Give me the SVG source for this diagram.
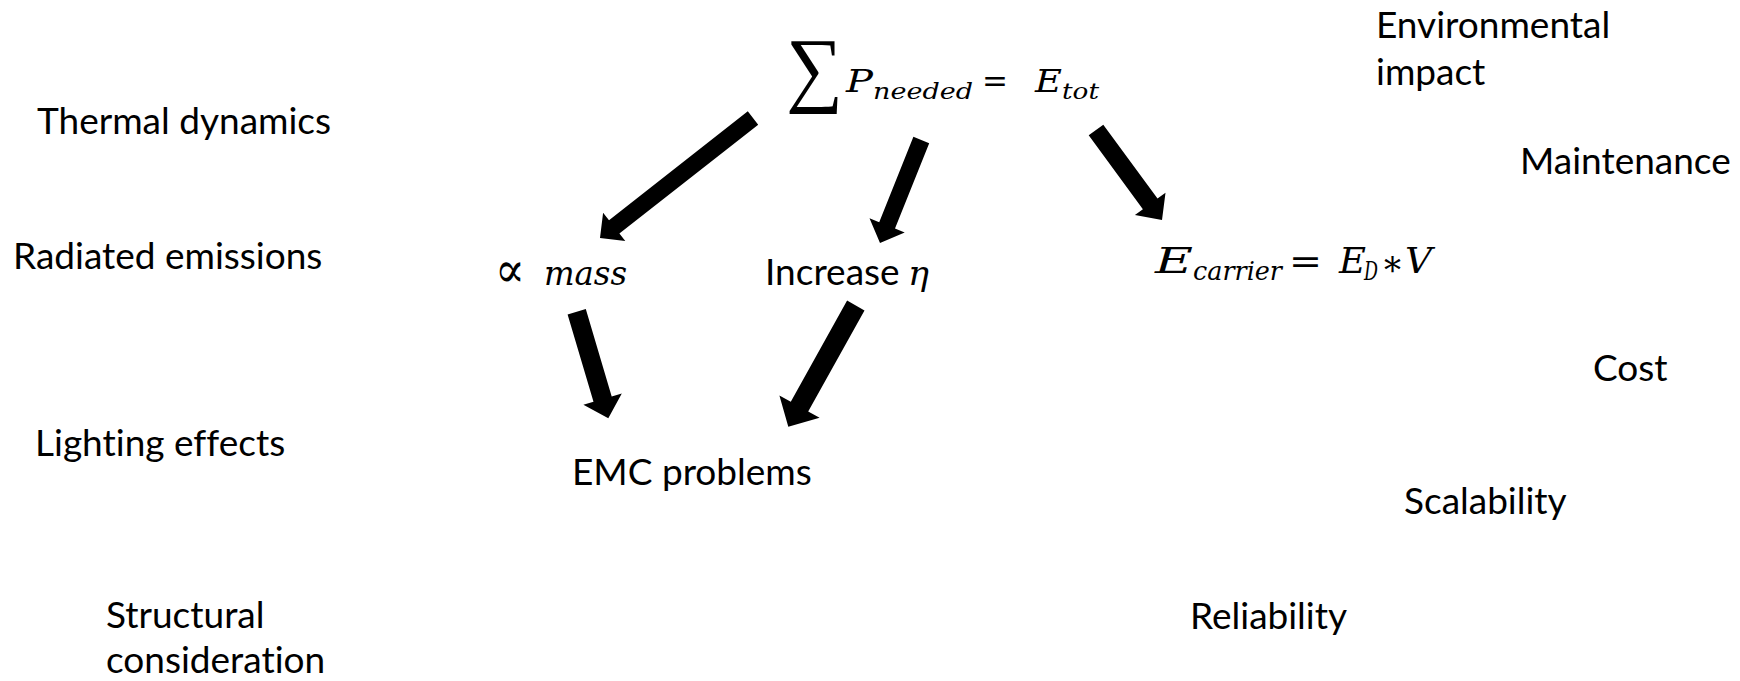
<svg xmlns="http://www.w3.org/2000/svg" width="1740" height="681" viewBox="0 0 1740 681">
  <style>
    .lbl { font-family: Lato, "Liberation Sans", sans-serif; font-size: 37px; fill: #000; font-variant-ligatures: none; font-feature-settings: "liga" 0; }
    .m { font-family: "DejaVu Serif", "Liberation Serif", serif; font-style: italic; fill: #000; }
    .mu { font-family: "DejaVu Serif", "Liberation Serif", serif; font-style: normal; fill: #000; }
    .big { font-family: "Liberation Serif", "DejaVu Serif", serif; fill: #000; }
    .arrow { fill: #000; stroke: none; }
  </style>
  <rect width="1740" height="681" fill="#fff"/>

  <!-- central equation: total energy -->
  <g id="node-sum">
    <text class="big" x="0" y="0" font-size="80" transform="translate(786,96) scale(1,1.04)">∑</text>
    <text class="m" x="846" y="92" font-size="31" textLength="27" lengthAdjust="spacingAndGlyphs">P</text>
    <text class="m" x="873" y="99" font-size="23" textLength="100" lengthAdjust="spacingAndGlyphs">needed</text>
    <text class="mu" x="982" y="92" font-size="31" textLength="26" lengthAdjust="spacingAndGlyphs">=</text>
    <text class="m" x="1035" y="92" font-size="31" textLength="27" lengthAdjust="spacingAndGlyphs">E</text>
    <text class="m" x="1062" y="99" font-size="23" textLength="37" lengthAdjust="spacingAndGlyphs">tot</text>
  </g>

  <g id="node-mass">
    <text class="mu" x="495" y="287" font-size="50" textLength="30" lengthAdjust="spacingAndGlyphs">∝</text>
    <text class="m" x="544" y="285" font-size="33" textLength="83" lengthAdjust="spacingAndGlyphs">mass</text>
  </g>

  <g id="node-efficiency">
    <text class="lbl" x="765" y="285">Increase</text>
    <text class="m" x="908" y="285" font-size="33" textLength="21" lengthAdjust="spacingAndGlyphs">η</text>
  </g>

  <g id="node-carrier">
    <text class="m" x="1155" y="273" font-size="35" textLength="38" lengthAdjust="spacingAndGlyphs">E</text>
    <text class="m" x="1193" y="280" font-size="26" textLength="89" lengthAdjust="spacingAndGlyphs">carrier</text>
    <text class="mu" x="1289" y="273" font-size="35" textLength="33" lengthAdjust="spacingAndGlyphs">=</text>
    <text class="m" x="1339" y="273" font-size="35" textLength="27" lengthAdjust="spacingAndGlyphs">E</text>
    <text class="m" x="1364" y="280" font-size="26" textLength="14" lengthAdjust="spacingAndGlyphs">D</text>
    <text class="mu" x="1384" y="283" font-size="35" textLength="17" lengthAdjust="spacingAndGlyphs">*</text>
    <text class="m" x="1405" y="273" font-size="35" textLength="27" lengthAdjust="spacingAndGlyphs">V</text>
  </g>

  <g id="node-emc">
    <text class="lbl" x="572" y="485">EMC problems</text>
  </g>

  <!-- side considerations, left -->
  <g id="node-thermal"><text class="lbl" x="37" y="134">Thermal dynamics</text></g>
  <g id="node-radiated"><text class="lbl" x="13" y="269">Radiated emissions</text></g>
  <g id="node-lighting"><text class="lbl" x="35" y="456">Lighting effects</text></g>
  <g id="node-structural">
    <text class="lbl" x="106" y="628">Structural</text>
    <text class="lbl" x="106" y="673">consideration</text>
  </g>

  <!-- side considerations, right -->
  <g id="node-environment">
    <text class="lbl" x="1376" y="38">Environmental</text>
    <text class="lbl" x="1376" y="85">impact</text>
  </g>
  <g id="node-maintenance"><text class="lbl" x="1520" y="174">Maintenance</text></g>
  <g id="node-cost"><text class="lbl" x="1593" y="381">Cost</text></g>
  <g id="node-scalability"><text class="lbl" x="1404" y="514">Scalability</text></g>
  <g id="node-reliability"><text class="lbl" x="1190" y="629">Reliability</text></g>

  <!-- thick block arrows -->
  <g id="connectors">
    <polygon class="arrow" points="747.8,111.3 609.0,220.2 603.1,212.7 600,238 625.3,241.1 619.4,233.6 758.2,124.7"/>
    <polygon class="arrow" points="913.4,136.8 879.2,222.2 869.5,218.3 880,243 904.7,232.5 895.0,228.6 929.2,143.2"/>
    <polygon class="arrow" points="567.6,314.4 593.5,401.8 583.4,404.8 608.3,418.3 621.8,393.4 611.7,396.4 585.8,309.0"/>
    <polygon class="arrow" points="847.1,300.6 790.8,401.7 779.4,395.4 788.3,426.7 819.6,417.8 808.2,411.5 864.5,310.4"/>
    <polygon class="arrow" points="1088.7,135.3 1142.9,209.2 1134.9,215.1 1162,220 1165.5,192.7 1157.5,198.6 1103.3,124.7"/>
  </g>
</svg>
